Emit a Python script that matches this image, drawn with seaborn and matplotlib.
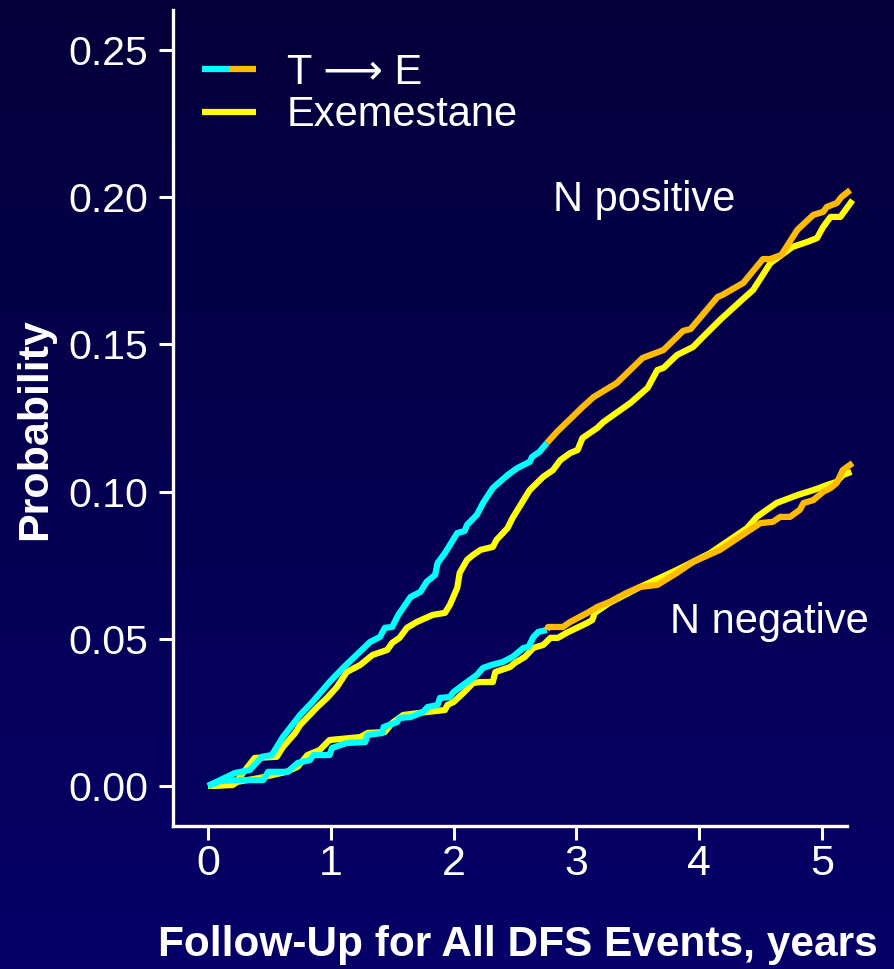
import numpy as np
import pandas as pd
import matplotlib
matplotlib.use("Agg")
import matplotlib.pyplot as plt
from matplotlib import font_manager
from matplotlib.lines import Line2D
from matplotlib.legend_handler import HandlerTuple
import seaborn as sns

# ---------------------------------------------------------------------------
# Cumulative probability of a DFS event (Kaplan-Meier style curves)
# ---------------------------------------------------------------------------
SWITCH_YEAR = 2.76  # tamoxifen -> exemestane switch in the sequential arm

# Node-positive, sequential T -> E
npos_te_years = [0, 0.10, 0.22, 0.34, 0.44, 0.52, 0.61, 0.75, 0.85, 0.99,
                 1.10, 1.21, 1.32, 1.40, 1.44, 1.50, 1.55, 1.65, 1.73, 1.78,
                 1.85, 1.87, 1.93, 2.03, 2.09, 2.11, 2.19, 2.24, 2.32, 2.44,
                 2.52, 2.62, 2.64, 2.70, 2.76, 2.84, 3.05, 3.14, 3.33, 3.54,
                 3.71, 3.87, 3.93, 4.15, 4.19, 4.36, 4.52, 4.58, 4.67, 4.80,
                 4.93, 5.01, 5.04, 5.12, 5.16, 5.23]
npos_te_prob = [0, .0020, .0044, .0054, .0099, .0105, .0166, .0241, .0285, .0353,
                .0401, .0445, .0489, .0506, .0537, .0540, .0581, .0642, .0659, .0693,
                .0717, .0757, .0791, .0859, .0866, .0887, .0921, .0961, .1012, .1056,
                .1080, .1101, .1118, .1135, .1165, .1202, .1287, .1321, .1369, .1454,
                .1481, .1546, .1552, .1661, .1668, .1709, .1790, .1790, .1804, .1889,
                .1940, .1950, .1967, .1980, .2001, .2024]

# Node-positive, exemestane alone
npos_exe_years = [0, 0.20, 0.24, 0.38, 0.56, 0.61, 0.71, 0.75, 0.89, 0.97,
                  1.05, 1.13, 1.24, 1.34, 1.46, 1.50, 1.56, 1.62, 1.70, 1.83,
                  1.93, 1.97, 2.03, 2.05, 2.11, 2.16, 2.22, 2.32, 2.35, 2.44,
                  2.48, 2.57, 2.62, 2.73, 2.81, 2.87, 2.95, 3.01, 3.05, 3.17,
                  3.22, 3.44, 3.58, 3.66, 3.71, 3.82, 3.95, 4.03, 4.17, 4.33,
                  4.44, 4.58, 4.76, 4.88, 4.96, 5.01, 5.07, 5.15, 5.25]
npos_exe_prob = [0, .0005, .0020, .0095, .0099, .0132, .0180, .0207, .0268, .0299,
                 .0336, .0387, .0411, .0445, .0462, .0486, .0503, .0537, .0557, .0581,
                 .0588, .0615, .0673, .0724, .0768, .0785, .0802, .0812, .0836, .0876,
                 .0910, .0971, .1005, .1050, .1073, .1107, .1131, .1141, .1182, .1216,
                 .1236, .1301, .1352, .1413, .1420, .1464, .1491, .1525, .1583, .1644,
                 .1685, .1776, .1831, .1848, .1861, .1899, .1933, .1933, .1990]

# Node-negative, sequential T -> E
nneg_te_years = [0, 0.10, 0.26, 0.45, 0.49, 0.65, 0.73, 0.83, 0.86, 0.99,
                 1.01, 1.13, 1.28, 1.30, 1.42, 1.43, 1.54, 1.56, 1.65, 1.75,
                 1.79, 1.87, 1.89, 1.97, 2.00, 2.11, 2.19, 2.24, 2.31, 2.40,
                 2.48, 2.57, 2.61, 2.65, 2.69, 2.76, 2.77, 2.89, 2.95, 3.09,
                 3.17, 3.27, 3.41, 3.52, 3.66, 3.82, 3.95, 4.17, 4.39, 4.50,
                 4.60, 4.66, 4.74, 4.82, 4.85, 4.93, 5.01, 5.07, 5.12, 5.17, 5.25]
nneg_te_prob = [0, .0017, .0020, .0020, .0048, .0048, .0078, .0088, .0105, .0105,
                .0129, .0146, .0149, .0173, .0180, .0200, .0217, .0231, .0234, .0251,
                .0268, .0275, .0299, .0302, .0319, .0353, .0377, .0401, .0411, .0421,
                .0438, .0469, .0472, .0506, .0523, .0530, .0540, .0540, .0557, .0588,
                .0608, .0625, .0656, .0676, .0683, .0724, .0761, .0802, .0863, .0893,
                .0897, .0914, .0914, .0938, .0961, .0971, .0999, .1012, .1029, .1073, .1097]

# Node-negative, exemestane alone
nneg_exe_years = [0, 0.20, 0.24, 0.42, 0.64, 0.73, 0.81, 0.91, 0.99, 1.24,
                  1.30, 1.44, 1.50, 1.59, 1.78, 1.93, 1.95, 2.00, 2.08, 2.16,
                  2.22, 2.32, 2.34, 2.46, 2.50, 2.58, 2.65, 2.73, 2.79, 2.85,
                  2.92, 3.09, 3.13, 3.15, 3.27, 3.52, 3.82, 4.09, 4.39, 4.47,
                  4.63, 4.80, 4.93, 5.04, 5.12, 5.17, 5.24]
nneg_exe_prob = [0, .0003, .0014, .0027, .0048, .0065, .0105, .0122, .0156, .0166,
                 .0180, .0183, .0214, .0241, .0251, .0258, .0275, .0285, .0316, .0350,
                 .0353, .0353, .0387, .0404, .0418, .0438, .0469, .0479, .0503, .0503,
                 .0520, .0554, .0564, .0588, .0622, .0676, .0734, .0791, .0876, .0914,
                 .0961, .0988, .1005, .1022, .1033, .1056, .1067]

x_ticks = [0, 1, 2, 3, 4, 5]
y_ticks = [0.00, 0.05, 0.10, 0.15, 0.20, 0.25]

legend_labels = ["T \u27F6 E", "Exemestane"]
x_label = "Follow-Up for All DFS Events, years"
y_label = "Probability"

# ---------------------------------------------------------------------------
CYAN = "#00FFFF"
ORANGE = "#FFBB00"
YELLOW = "#FFFF00"
LW = 4.5

sns.set_theme(style="ticks")
plt.rcParams["font.family"] = ["Liberation Sans", "DejaVu Sans"]
installed = {f.name for f in font_manager.fontManager.ttflist}
narrow = "Liberation Sans Narrow" if "Liberation Sans Narrow" in installed else "Liberation Sans"

fig = plt.figure(figsize=(8.94, 9.69), dpi=100)

# slide background: vertical navy gradient
bg = fig.add_axes([0, 0, 1, 1], zorder=-10)
t = np.linspace(0, 1, 256)[:, None, None]
top_c = np.array([0x04, 0x00, 0x3a]) / 255
bot_c = np.array([0x06, 0x00, 0x68]) / 255
bg.imshow(top_c + (bot_c - top_c) * t, aspect="auto", extent=[0, 1, 0, 1])
bg.set_axis_off()

ax = fig.add_axes([0.1935, 0.1476, 0.7539, 0.8421])
ax.set_facecolor("none")


def frame(years, prob, arm, nodes):
    df = pd.DataFrame({"years": years, "prob": prob})
    df["arm"] = arm
    df["nodes"] = nodes
    return df


curves = pd.concat([
    frame(npos_exe_years, npos_exe_prob, "Exemestane", "positive"),
    frame(nneg_exe_years, nneg_exe_prob, "Exemestane", "negative"),
    frame(npos_te_years, npos_te_prob, "T->E", "positive"),
    frame(nneg_te_years, nneg_te_prob, "T->E", "negative"),
], ignore_index=True)


def draw(sub, color):
    sns.lineplot(data=sub, x="years", y="prob", color=color, lw=LW,
                 sort=False, estimator=None, ax=ax, clip_on=False,
                 solid_joinstyle="round", solid_capstyle="butt")


for nodes in ["positive", "negative"]:
    exe = curves[(curves.arm == "Exemestane") & (curves.nodes == nodes)]
    draw(exe, YELLOW)
for nodes in ["positive", "negative"]:
    te = curves[(curves.arm == "T->E") & (curves.nodes == nodes)]
    draw(te[te.years <= SWITCH_YEAR], CYAN)
    draw(te[te.years >= SWITCH_YEAR], ORANGE)

ax.set_xlim(-0.285, 5.204)
ax.set_ylim(-0.0136, 0.2636)
ax.set_xticks(x_ticks)
ax.set_xticklabels([str(v) for v in x_ticks])
ax.set_yticks(y_ticks)
ax.set_yticklabels([f"{v:.2f}" for v in y_ticks])

for side in ["top", "right"]:
    ax.spines[side].set_visible(False)
for side in ["left", "bottom"]:
    ax.spines[side].set_color("white")
    ax.spines[side].set_linewidth(2.4)

ax.tick_params(axis="both", colors="white", length=10, width=2.2)
ax.tick_params(axis="y", labelsize=29.5, pad=8)
ax.tick_params(axis="x", labelsize=31, pad=3)
for lab in ax.get_xticklabels():
    lab.set_family([narrow, "Liberation Sans", "DejaVu Sans"])

ax.set_xlabel(x_label, color="white", fontsize=30.5, fontweight="bold", va="center")
ax.xaxis.set_label_coords(0.511, -0.146)
ax.set_ylabel(y_label, color="white", fontsize=31, fontweight="bold", va="center")
ax.yaxis.set_label_coords(-0.205, 0.4865)

ax.text(2.81, 0.1953, "N positive", color="white", fontsize=30,
        ha="left", va="baseline")
ax.text(3.762, 0.052, "N negative", color="white", fontsize=30,
        ha="left", va="baseline")

h_te = (Line2D([], [], color=CYAN, lw=LW, solid_capstyle="butt"),
        Line2D([], [], color=ORANGE, lw=LW, solid_capstyle="butt"))
h_exe = Line2D([], [], color=YELLOW, lw=LW, solid_capstyle="butt")
leg = ax.legend([h_te, h_exe], legend_labels,
                handler_map={tuple: HandlerTuple(ndivide=None, pad=0.0)},
                loc="upper left", bbox_to_anchor=(202 / 894, 1 - 53 / 969),
                bbox_transform=fig.transFigure, frameon=False, fontsize=30,
                handlelength=1.3, handletextpad=0.74, borderpad=0,
                borderaxespad=0, labelspacing=0.05)
for txt in leg.get_texts():
    txt.set_color("white")

fig.savefig("out.png", dpi=100)
